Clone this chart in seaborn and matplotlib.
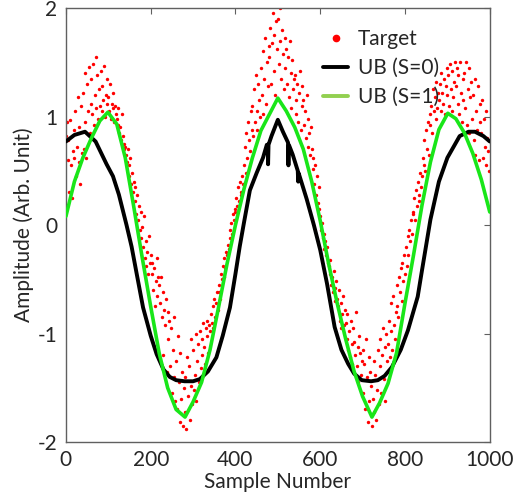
import numpy as np
import pandas as pd
import seaborn as sns
import matplotlib.pyplot as plt
from matplotlib.lines import Line2D

# target samples (every 2nd sample)
target_x = list(range(0, 1000, 2))
target_y = [
    0.82, 0.95, 0.60, 0.78, 0.30, 0.97, 0.55, 0.25, 0.68, 0.88,   # 0
    0.62, 1.05, 0.45, 0.72, 1.18, 0.58, 0.90, 0.38, 1.10, 0.66,   # 20
    1.22, 0.70, 1.40, 0.95, 0.62, 1.30, 1.05, 1.46, 0.85, 1.12,   # 40
    1.35, 1.02, 1.48, 0.92, 1.20, 1.55, 1.08, 1.38, 0.98, 1.25,   # 60
    1.10, 1.42, 1.05, 1.28, 1.15, 1.47, 1.00, 1.20, 1.35, 1.12,   # 80
    1.18, 1.05, 1.30, 0.98, 1.12, 1.08, 1.22, 0.95, 1.10, 1.02,   # 100
    0.98, 0.92, 1.08, 0.85, 0.90, 0.78, 1.02, 0.82, 0.75, 0.70,   # 120
    0.72, 0.65, 0.58, 0.70, 0.45, 0.55, 0.62, 0.38, 0.48, 0.30,   # 140
    0.40, 0.22, 0.35, 0.10, 0.28, 0.05, 0.18, -0.05, 0.12, -0.12, # 160
    -0.02, -0.20, 0.08, -0.30, -0.15, -0.38, -0.25, -0.45, -0.10, -0.35,  # 180
    -0.28, -0.45, -0.35, -0.60, -0.40, -0.75, -0.52, -0.30, -0.65, -0.48,  # 200
    -0.55, -0.72, -0.48, -0.85, -0.62, -1.20, -0.78, -0.92, -0.68, -1.35,  # 220
    -0.80, -1.05, -0.88, -1.30, -0.95, -1.55, -1.15, -0.85, -1.40, -1.62,  # 240
    -1.25, -1.70, -1.02, -1.45, -1.82, -1.18, -1.60, -1.35, -1.85, -1.50,  # 260
    -1.72, -1.40, -1.88, -1.22, -1.58, -1.30, -1.80, -1.05, -1.48, -1.65,  # 280
    -1.15, -1.52, -1.38, -1.00, -1.62, -1.25, -1.10, -1.45, -0.98, -1.32,  # 300
    -1.05, -1.20, -0.90, -1.12, -1.28, -0.95, -1.02, -0.88, -1.18, -0.92,  # 320
    -0.98, -0.82, -0.90, -0.75, -0.95, -0.68, -0.85, -0.72, -0.62, -0.78,  # 340
    -0.62, -0.55, -0.68, -0.45, -0.50, -0.38, -0.48, -0.30, -0.40, -0.25,  # 360
    -0.28, -0.18, -0.22, -0.05, -0.12, 0.02, -0.08, 0.10, 0.05, 0.15,     # 380
    0.12, 0.25, 0.18, 0.35, 0.22, 0.40, 0.30, 0.28, 0.45, 0.38,   # 400
    0.55, 0.72, 0.48, 0.85, 0.62, 0.95, 0.78, 0.68, 1.05, 0.88,   # 420
    1.10, 0.82, 1.25, 0.95, 1.38, 1.05, 0.88, 1.30, 1.15, 1.00,   # 440
    1.45, 1.20, 1.60, 1.02, 1.35, 1.72, 1.12, 1.50, 1.28, 1.65,   # 460
    1.55, 1.82, 1.30, 1.68, 1.95, 1.42, 1.75, 1.20, 1.88, 1.62,   # 480
    1.90, 1.48, 1.70, 2.00, 1.35, 1.80, 1.58, 1.25, 1.72, 1.45,   # 500
    1.62, 1.30, 1.55, 1.18, 1.70, 1.40, 1.08, 1.52, 1.25, 1.35,   # 520
    1.38, 1.15, 1.02, 1.30, 0.95, 1.22, 1.42, 0.88, 1.10, 1.28,   # 540
    1.15, 0.92, 1.05, 0.80, 1.20, 0.72, 0.98, 0.85, 0.65, 0.90,   # 560
    0.70, 0.52, 0.62, 0.38, 0.55, 0.28, 0.45, 0.20, 0.35, 0.15,   # 580
    0.08, -0.05, 0.02, -0.12, -0.08, -0.22, -0.15, -0.28, -0.20, -0.35,  # 600
    -0.38, -0.45, -0.32, -0.55, -0.48, -0.62, -0.42, -0.70, -0.58, -0.52,  # 620
    -0.68, -0.75, -0.60, -0.88, -0.72, -0.95, -0.82, -0.65, -0.92, -0.78,  # 640
    -0.90, -1.05, -0.82, -1.15, -0.98, -1.22, -0.88, -1.10, -1.28, -0.95,  # 660
    -1.08, -1.20, -0.80, -1.30, -1.12, -1.45, -1.02, -1.18, -1.38, -1.25,  # 680
    -1.15, -1.55, -1.28, -1.70, -1.05, -1.40, -1.82, -1.22, -1.62, -1.35,  # 700
    -1.48, -1.85, -1.60, -1.25, -1.72, -1.38, -1.80, -1.52, -1.15, -1.65,  # 720
    -1.30, -1.05, -1.55, -1.20, -0.95, -1.42, -1.12, -1.62, -1.00, -1.25,  # 740
    -1.10, -0.88, -1.22, -0.72, -0.98, -1.15, -0.65, -0.92, -1.05, -0.80,  # 760
    -0.75, -0.55, -0.85, -0.48, -0.62, -0.40, -0.70, -0.35, -0.52, -0.28,  # 780
    -0.45, -0.20, -0.38, -0.10, -0.28, -0.05, -0.15, 0.05, -0.08, 0.12,    # 800
    0.10, 0.25, 0.05, 0.32, 0.18, 0.40, 0.28, 0.22, 0.48, 0.35,   # 820
    0.45, 0.62, 0.55, 0.78, 0.50, 0.88, 0.70, 0.95, 0.65, 1.02,   # 840
    0.92, 1.10, 0.85, 1.25, 1.05, 1.18, 0.98, 1.32, 1.08, 1.22,   # 860
    1.15, 1.30, 1.05, 1.40, 1.22, 1.12, 1.35, 1.02, 1.28, 1.45,   # 880
    1.20, 1.38, 1.10, 1.48, 1.25, 1.05, 1.42, 1.18, 1.32, 1.50,   # 900
    1.28, 1.45, 1.12, 1.38, 1.02, 1.50, 1.22, 0.95, 1.35, 1.15,   # 920
    1.40, 1.08, 1.50, 0.92, 1.25, 1.45, 0.85, 1.18, 1.32, 0.98,   # 940
    1.20, 0.78, 1.35, 0.65, 1.05, 0.88, 1.28, 0.60, 0.95, 1.12,   # 960
    0.85, 1.15, 0.62, 0.98, 0.72, 1.05, 0.55, 0.80, 0.68, 0.50,   # 980
]

# UB (S=0)
ub0_x = [0, 20, 45, 70, 96, 111, 125, 143, 155, 167, 182, 200, 214, 230, 245, 260,
         280, 300, 316, 335, 355, 370, 387, 400, 410, 420, 434, 450, 465, 474, 476,
         477, 478, 485, 500, 512, 524, 525, 526, 535, 547, 548, 549, 568, 585, 600,
         616, 634, 650, 666, 680, 698, 720, 736, 752, 769, 790, 807, 830, 840, 860,
         880, 900, 929, 950, 965, 985, 1000]
ub0_y = [0.77, 0.83, 0.86, 0.77, 0.56, 0.45, 0.28, 0.00, -0.20, -0.45, -0.76, -1.02,
         -1.19, -1.33, -1.40, -1.43, -1.44, -1.44, -1.42, -1.35, -1.22, -1.02, -0.76,
         -0.45, -0.20, 0.02, 0.32, 0.48, 0.62, 0.74, 0.74, 0.56, 0.74, 0.82, 0.97,
         0.86, 0.76, 0.55, 0.74, 0.65, 0.50, 0.40, 0.48, 0.24, 0.00, -0.23, -0.54,
         -0.94, -1.15, -1.28, -1.37, -1.43, -1.44, -1.43, -1.39, -1.31, -1.15, -0.97,
         -0.66, -0.42, 0.05, 0.40, 0.62, 0.82, 0.86, 0.86, 0.82, 0.77]

# UB (S=1)
ub1_x = [0, 20, 40, 60, 80, 99, 120, 140, 160, 180, 200, 220, 240, 260, 281, 300,
         320, 340, 360, 380, 400, 420, 440, 460, 480, 500, 520, 540, 560, 580, 600,
         620, 640, 660, 680, 700, 722, 740, 760, 780, 800, 820, 840, 860, 880, 901,
         920, 940, 960, 980, 1000]
ub1_y = [0.08, 0.40, 0.62, 0.80, 0.96, 1.04, 0.93, 0.62, 0.17, -0.30, -0.75, -1.18,
         -1.50, -1.70, -1.77, -1.63, -1.45, -1.15, -0.76, -0.36, 0.00, 0.33, 0.62,
         0.87, 1.02, 1.17, 1.05, 0.90, 0.70, 0.40, 0.04, -0.36, -0.72, -1.05, -1.35,
         -1.58, -1.77, -1.64, -1.46, -1.18, -0.72, -0.28, 0.18, 0.58, 0.88, 1.03,
         0.98, 0.85, 0.66, 0.42, 0.12]

x_ticks = [0, 200, 400, 600, 800, 1000]
y_ticks = [-2, -1, 0, 1, 2]

sns.set_style("white")
plt.rcParams['font.family'] = ['Lato', 'DejaVu Sans']
plt.rcParams['axes.unicode_minus'] = False

df_t = pd.DataFrame({"x": target_x, "y": target_y})
df0 = pd.DataFrame({"x": ub0_x, "y": ub0_y})
df1 = pd.DataFrame({"x": ub1_x, "y": ub1_y})

fig = plt.figure(figsize=(5.15, 4.93), dpi=100)
ax = fig.add_axes([0.128, 0.1034, 0.823, 0.8803])

sns.scatterplot(data=df_t, x="x", y="y", ax=ax, color="#ff0000", s=6,
                linewidth=0, zorder=2)
sns.lineplot(data=df0, x="x", y="y", ax=ax, color="black", lw=2.8,
             estimator=None, sort=False, zorder=3)
sns.lineplot(data=df1, x="x", y="y", ax=ax, color="#19e619", lw=2.6,
             estimator=None, sort=False, zorder=4)

ax.set_xlim(0, 1000)
ax.set_ylim(-2, 2)
ax.set_xticks(x_ticks)
ax.set_yticks(y_ticks)
ax.tick_params(direction="in", length=4, width=0.8, color="#606060",
               top=True, right=True, labelsize=15, pad=6)
for sp in ax.spines.values():
    sp.set_color("#606060")
    sp.set_linewidth(1.0)
ax.set_xlabel("Sample Number", fontsize=15, labelpad=1)
ax.set_ylabel("Amplitude (Arb. Unit)", fontsize=15, labelpad=3)

handles = [
    Line2D([], [], marker="o", ls="none", color="#ff0000", markersize=4.5),
    Line2D([], [], color="black", lw=2.8),
    Line2D([], [], color="#92d050", lw=2.8),
]
ax.legend(handles, ["Target", "UB (S=0)", "UB (S=1)"], loc="upper left",
          bbox_to_anchor=(0.563, 0.994), frameon=False, fontsize=15,
          handlelength=1.2, handletextpad=0.45, labelspacing=0.42)

fig.savefig("out.png", dpi=100)
